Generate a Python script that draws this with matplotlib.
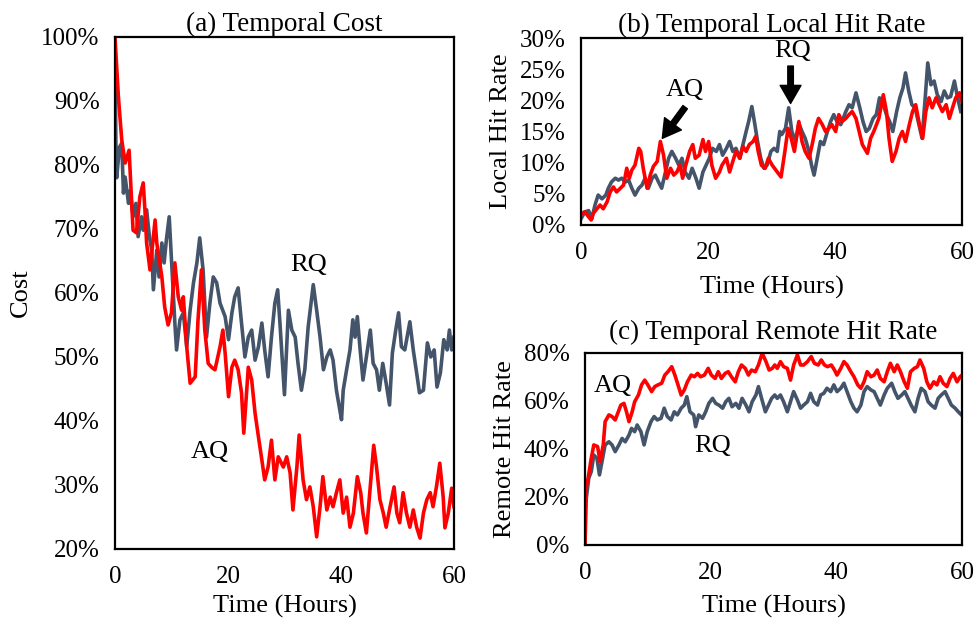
import matplotlib
matplotlib.use('Agg')
import matplotlib.pyplot as plt
from matplotlib.ticker import FuncFormatter, MultipleLocator

plt.rcParams['font.family'] = ['Liberation Serif', 'DejaVu Serif']

RED = '#FF0000'
GRAY = '#44546A'

# ---------------- data (hours, percent) ----------------
cost_aq = [(0, 100), (0.6, 90.7), (1.2, 83.9), (1.8, 80.3), (2.5, 82.3), (3.2, 69.8), (3.8, 69.4),
           (4.4, 75.0), (5.0, 77.2), (5.3, 73.0), (5.6, 67.8), (6.2, 63.6), (7.1, 71.4), (7.4, 67.8),
           (8.3, 62.5), (8.8, 57.8), (9.4, 55.0), (10.0, 56.9), (10.6, 64.7), (11.2, 59.4), (11.8, 57.3),
           (12.1, 59.4), (12.7, 51.6), (13.3, 45.9), (14.2, 46.9), (14.7, 55.8), (15.3, 63.6), (15.9, 54.2),
           (16.5, 49.0), (17.1, 48.4), (17.7, 48.0), (18.6, 51.6), (19.1, 54.2), (19.5, 50.6), (20.1, 43.8),
           (20.7, 48.4), (21.2, 49.5), (21.8, 48.0), (22.4, 44.4), (22.8, 38.1), (23.6, 48.4), (24.2, 46.4),
           (24.8, 41.2), (25.4, 37.5), (26.0, 33.9), (26.5, 30.8), (27.1, 32.8), (27.7, 37.0), (28.3, 30.8),
           (28.9, 34.4), (29.8, 32.8), (30.4, 34.4), (31.0, 31.9), (31.5, 26.1), (32.2, 32.8), (32.6, 37.8),
           (33.3, 30.8), (33.9, 27.7), (34.5, 29.7), (35.1, 26.6), (35.7, 21.9), (36.3, 26.6), (36.8, 31.3),
           (37.5, 26.1), (38.1, 28.1), (38.6, 26.6), (39.2, 28.8), (39.8, 30.8), (40.4, 25.6), (41.0, 28.1),
           (41.6, 23.4), (42.2, 25.6), (42.9, 31.3), (43.5, 28.8), (43.9, 25.6), (44.5, 22.5), (45.1, 28.8),
           (45.8, 36.2), (46.3, 32.8), (46.9, 27.7), (47.5, 25.6), (48.0, 23.4), (48.7, 26.6), (49.4, 29.7),
           (49.9, 25.6), (50.4, 24.1), (51.0, 28.8), (51.6, 25.6), (52.2, 23.4), (52.8, 26.1), (53.4, 23.4),
           (54.0, 21.7), (54.6, 25.6), (55.2, 27.7), (55.8, 28.8), (56.3, 26.6), (56.9, 29.7), (57.5, 33.4),
           (58.1, 28.1), (58.4, 23.3), (59.0, 25.6), (59.6, 29.5), (60.0, 26.6)]

cost_rq = [(0, 100), (0.15, 84.0), (0.3, 78.0), (0.8, 82.8), (1.2, 83.4), (1.5, 75.6), (1.8, 78.1),
           (2.4, 74.0), (2.7, 76.0), (3.2, 71.9), (3.7, 74.0), (4.1, 68.8), (4.7, 71.9), (5.0, 69.8),
           (5.6, 73.0), (6.1, 68.8), (6.5, 66.7), (6.8, 60.5), (7.4, 66.7), (7.8, 62.5), (8.3, 67.8),
           (8.7, 64.7), (9.1, 68.3), (9.6, 71.9), (10.0, 65.2), (10.6, 55.3), (10.9, 51.1), (11.5, 55.8),
           (12.1, 56.9), (12.7, 51.6), (13.3, 57.3), (13.9, 61.6), (14.5, 64.7), (15.0, 68.6), (15.6, 63.6),
           (16.2, 53.1), (16.8, 58.4), (17.4, 62.5), (18.0, 61.6), (18.6, 58.4), (19.5, 56.3), (20.1, 52.7),
           (20.7, 56.9), (21.2, 59.4), (21.8, 60.8), (22.4, 55.3), (23.0, 50.0), (23.6, 53.1), (24.2, 54.2),
           (24.8, 49.5), (25.4, 51.6), (26.0, 55.3), (26.5, 51.1), (27.1, 46.9), (27.7, 53.1), (28.3, 58.4),
           (28.8, 60.5), (29.2, 55.3), (30.0, 44.1), (30.7, 57.3), (31.3, 54.2), (31.9, 53.1), (32.4, 49.0),
           (33.0, 44.8), (33.6, 48.0), (34.2, 54.7), (35.1, 61.3), (35.7, 57.3), (36.3, 53.1), (36.9, 48.0),
           (37.5, 50.0), (38.1, 51.1), (38.6, 49.5), (39.2, 44.8), (39.8, 41.7), (40.1, 40.2), (40.4, 44.8),
           (41.0, 48.0), (41.6, 51.1), (42.1, 55.8), (42.5, 53.1), (42.9, 56.3), (43.4, 51.1), (43.9, 46.4),
           (44.5, 50.0), (45.2, 54.2), (45.7, 49.0), (46.3, 48.0), (46.8, 44.8), (47.4, 49.0), (48.0, 45.9),
           (48.6, 42.5), (49.1, 50.6), (49.7, 54.2), (50.2, 56.9), (50.7, 51.6), (51.3, 51.1), (52.2, 55.5),
           (52.8, 51.1), (53.4, 47.5), (53.9, 44.4), (54.6, 44.8), (55.3, 52.2), (55.9, 50.0), (56.5, 51.1),
           (57.0, 45.3), (57.6, 47.5), (58.2, 52.7), (58.8, 51.1), (59.2, 54.2), (59.6, 51.1), (60.0, 53.1)]

local_aq = [(0, 1.8), (0.6, 2.1), (1.2, 1.3), (1.6, 0.8), (1.9, 1.8), (2.5, 2.6), (3.0, 3.2), (3.5, 2.6),
            (4.1, 3.7), (4.6, 5.3), (5.1, 6.1), (5.6, 5.3), (6.2, 5.9), (6.7, 6.4), (7.2, 9.1), (7.6, 7.5),
            (8.0, 8.8), (8.5, 9.6), (9.1, 12.3), (9.4, 11.8), (9.8, 9.1), (10.4, 5.9), (10.9, 8.0), (11.4, 9.4),
            (12.0, 10.2), (12.5, 13.4), (13.0, 11.2), (13.5, 7.5), (14.1, 9.1), (14.6, 8.0), (15.1, 8.5),
            (15.6, 9.6), (16.0, 7.5), (16.5, 9.6), (17.1, 11.8), (17.6, 12.9), (18.0, 10.7), (18.6, 11.2),
            (19.2, 13.7), (19.6, 11.8), (20.1, 13.4), (20.6, 9.6), (21.2, 7.5), (21.8, 8.5), (22.2, 9.6),
            (22.9, 10.7), (23.4, 8.5), (23.9, 10.2), (24.4, 11.8), (25.0, 10.7), (25.5, 12.6), (26.0, 11.8),
            (26.5, 12.9), (27.1, 13.4), (27.5, 14.2), (27.9, 11.8), (28.4, 9.6), (29.0, 9.1), (29.5, 10.7),
            (30.1, 9.6), (30.9, 8.5), (31.5, 7.7), (32.1, 11.8), (32.6, 15.5), (33.1, 13.9), (33.6, 11.8),
            (34.3, 16.6), (34.8, 13.4), (35.3, 11.8), (35.9, 10.7), (36.4, 12.9), (36.9, 15.5), (37.4, 17.1),
            (38.0, 16.1), (38.5, 15.0), (39.0, 15.5), (39.5, 16.1), (40.1, 15.0), (40.6, 17.7), (41.1, 16.6),
            (41.7, 17.1), (42.2, 17.7), (42.7, 18.2), (43.3, 17.1), (43.8, 15.0), (44.3, 12.9), (45.1, 11.5),
            (45.6, 13.9), (46.1, 15.0), (46.9, 17.1), (47.6, 20.9), (48.1, 18.2), (48.5, 13.9), (49.0, 10.2),
            (49.6, 11.8), (50.1, 13.9), (50.6, 15.0), (51.1, 13.4), (51.7, 16.1), (52.2, 18.2), (52.7, 19.3),
            (53.2, 16.6), (53.8, 13.9), (54.3, 18.2), (54.8, 20.4), (55.3, 18.8), (55.9, 20.4), (56.4, 19.3),
            (56.9, 18.2), (57.5, 19.3), (58.0, 17.1), (58.5, 18.8), (59.0, 20.4), (59.6, 21.2), (60.0, 19.8)]

local_rq = [(0, 1.0), (0.6, 2.1), (1.2, 2.3), (1.7, 1.0), (2.2, 3.2), (2.7, 4.8), (3.3, 4.2), (3.9, 4.8),
            (4.3, 5.9), (4.8, 6.9), (5.4, 7.5), (5.9, 7.2), (6.4, 7.5), (7.0, 6.9), (7.5, 7.2), (8.0, 5.9),
            (8.5, 4.8), (9.1, 5.9), (9.6, 6.4), (10.1, 7.5), (10.6, 5.9), (11.2, 7.5), (11.7, 8.0), (12.2, 6.9),
            (12.7, 5.9), (13.3, 8.5), (13.8, 10.7), (14.3, 11.8), (14.9, 10.7), (15.4, 9.6), (15.9, 10.7),
            (16.4, 8.5), (17.0, 7.5), (17.5, 9.1), (18.1, 7.5), (18.6, 5.9), (19.2, 8.5), (19.7, 9.6),
            (20.2, 10.7), (20.7, 12.3), (21.3, 11.8), (21.8, 12.9), (22.3, 11.2), (22.9, 12.3), (23.4, 13.4),
            (23.9, 11.8), (24.4, 12.3), (25.0, 10.7), (25.5, 12.9), (26.0, 15.0), (26.4, 16.6), (26.9, 19.0),
            (27.3, 16.6), (27.8, 13.4), (28.3, 10.7), (28.8, 9.1), (29.3, 9.6), (29.9, 11.8), (30.4, 12.3),
            (30.9, 11.8), (31.3, 15.0), (31.6, 14.5), (32.2, 15.5), (32.7, 18.8), (33.2, 15.0), (33.8, 13.4),
            (34.3, 16.3), (34.8, 15.0), (35.3, 13.9), (35.9, 11.8), (36.3, 9.6), (36.7, 8.0), (37.2, 10.7),
            (37.7, 13.4), (38.2, 12.9), (38.8, 15.0), (39.3, 16.6), (39.8, 17.7), (40.3, 16.6), (40.9, 16.1),
            (41.7, 18.2), (42.2, 19.3), (42.7, 18.8), (43.3, 21.2), (43.9, 18.8), (44.4, 16.6), (44.9, 15.0),
            (45.4, 15.5), (46.0, 17.1), (46.5, 17.7), (47.0, 20.4), (47.6, 19.3), (48.1, 17.7), (48.6, 16.6),
            (49.1, 15.0), (49.7, 18.2), (50.2, 20.4), (50.7, 22.0), (51.1, 24.4), (51.6, 21.5), (52.1, 19.3),
            (52.6, 18.8), (53.1, 16.6), (53.7, 13.9), (54.2, 20.4), (54.6, 26.0), (55.1, 22.5), (55.6, 23.1),
            (56.1, 20.9), (56.7, 19.8), (57.2, 21.5), (57.7, 20.4), (58.2, 20.6), (58.8, 23.1), (59.3, 20.4),
            (59.8, 18.2)]

remote_aq = [(0, 0), (0.05, 22.2), (0.5, 27.9), (1.0, 36.2), (1.4, 41.7), (2.0, 41.0), (2.4, 34.7),
             (2.9, 41.7), (3.2, 51.4), (3.8, 54.2), (4.3, 53.5), (4.8, 52.1), (5.3, 55.5), (5.7, 58.3),
             (6.2, 59.0), (6.6, 55.5), (7.0, 51.4), (7.5, 55.5), (7.9, 59.7), (8.5, 62.5), (9.0, 66.7),
             (9.5, 68.7), (10.0, 66.7), (10.6, 63.9), (11.1, 66.0), (11.6, 66.7), (12.2, 67.4), (12.7, 70.8),
             (13.2, 72.2), (13.8, 74.3), (14.3, 70.8), (14.8, 66.7), (15.3, 62.5), (15.8, 64.6), (16.3, 68.0),
             (16.9, 70.8), (17.4, 70.1), (17.9, 71.5), (18.4, 70.1), (19.0, 70.8), (19.6, 73.6), (20.1, 70.8),
             (20.7, 69.4), (21.2, 72.2), (21.7, 69.4), (22.3, 71.5), (22.8, 72.2), (23.3, 70.1), (23.9, 68.0),
             (24.4, 72.2), (24.9, 75.0), (25.5, 73.6), (26.0, 70.8), (26.5, 72.9), (27.1, 72.2), (27.6, 75.0),
             (28.2, 79.9), (28.8, 76.4), (29.3, 72.9), (29.8, 73.6), (30.2, 75.0), (30.6, 73.6), (31.1, 76.4),
             (31.6, 74.3), (32.2, 73.6), (32.7, 68.7), (33.2, 75.0), (33.8, 79.2), (34.3, 75.0), (34.8, 75.0),
             (35.4, 76.4), (36.0, 78.5), (36.5, 75.7), (37.1, 75.0), (37.6, 77.1), (38.1, 75.0), (38.6, 74.3),
             (39.2, 75.0), (39.7, 72.9), (40.1, 70.8), (40.7, 73.6), (41.2, 76.4), (41.7, 75.0), (42.3, 72.2),
             (42.8, 70.1), (43.4, 66.7), (43.9, 65.3), (44.4, 68.0), (44.9, 72.2), (45.5, 70.1), (46.0, 70.8),
             (46.5, 72.9), (47.0, 69.4), (47.6, 68.0), (48.1, 72.2), (48.6, 75.7), (49.2, 72.2), (49.7, 75.0),
             (50.2, 72.2), (50.8, 68.0), (51.3, 65.3), (51.8, 72.2), (52.4, 73.6), (52.9, 74.3), (53.3, 77.1),
             (53.9, 73.6), (54.4, 68.0), (54.9, 65.3), (55.5, 68.0), (56.0, 66.7), (56.5, 70.1), (57.0, 67.4),
             (57.6, 66.0), (58.1, 69.4), (58.6, 71.5), (59.2, 68.0), (59.7, 70.1), (60.0, 70.8)]

remote_rq = [(0, 0), (0.2, 19.4), (0.6, 27.9), (1.0, 30.6), (1.4, 37.5), (1.9, 36.1), (2.3, 29.2),
             (2.7, 34.7), (3.2, 41.7), (3.8, 43.0), (4.3, 41.7), (4.8, 38.9), (5.4, 41.7), (5.9, 44.4),
             (6.4, 43.0), (7.0, 45.8), (7.4, 48.6), (7.9, 47.2), (8.3, 50.0), (8.9, 47.2), (9.4, 41.7),
             (9.9, 47.2), (10.5, 51.4), (11.0, 53.5), (11.5, 52.1), (12.1, 52.8), (12.6, 57.0), (13.1, 53.5),
             (13.7, 52.1), (14.2, 55.5), (14.7, 54.2), (15.3, 57.0), (15.8, 58.3), (16.2, 61.8), (16.7, 55.5),
             (17.3, 54.2), (17.6, 49.3), (18.1, 54.2), (18.7, 52.8), (19.2, 55.5), (19.7, 59.0), (20.3, 61.1),
             (20.8, 59.0), (21.3, 58.3), (21.9, 57.0), (22.4, 59.7), (22.9, 61.1), (23.4, 57.6), (24.0, 59.0),
             (24.5, 57.0), (25.0, 61.1), (25.6, 58.3), (26.1, 55.5), (26.6, 59.7), (27.2, 62.5), (27.6, 66.0),
             (28.1, 61.1), (28.7, 55.5), (29.2, 58.3), (29.7, 61.1), (30.2, 62.5), (30.6, 61.1), (31.1, 62.5),
             (31.6, 59.7), (32.2, 55.5), (32.7, 59.7), (33.2, 63.9), (33.8, 60.4), (34.3, 57.0), (34.8, 58.3),
             (35.4, 59.7), (35.9, 63.2), (36.4, 59.7), (37.0, 58.3), (37.5, 62.5), (38.0, 63.2), (38.5, 65.3),
             (39.1, 63.9), (39.6, 66.7), (40.1, 63.9), (40.7, 65.3), (41.2, 67.4), (41.7, 63.9), (42.3, 59.7),
             (42.8, 57.0), (43.3, 55.5), (43.9, 58.3), (44.4, 63.9), (44.9, 66.0), (45.5, 64.6), (46.0, 63.9),
             (46.5, 61.1), (47.0, 58.3), (47.6, 62.5), (48.1, 65.3), (48.8, 67.4), (49.3, 63.9), (49.8, 61.1),
             (50.4, 62.5), (50.9, 63.9), (51.4, 61.1), (51.9, 58.3), (52.5, 55.5), (53.0, 61.1), (53.5, 65.3),
             (54.1, 63.9), (54.6, 59.7), (55.1, 58.3), (55.7, 57.0), (56.2, 61.1), (56.7, 62.5), (57.3, 63.9),
             (57.8, 61.1), (58.3, 58.3), (58.9, 57.0), (59.4, 55.5), (59.9, 54.2)]

x_ticks = [0, 20, 40, 60]
titles = ['(a) Temporal Cost', '(b) Temporal Local Hit Rate', '(c) Temporal Remote Hit Rate']
ylabels = ['Cost', 'Local Hit Rate', 'Remote Hit Rate']
xlabel = 'Time (Hours)'

# ---------------- drawing ----------------
FS_TICK = 18
FS_LAB = 19
FS_TITLE = 19.5
LW = 2.6

fig = plt.figure(figsize=(9.76, 6.22), dpi=100)
ax_a = fig.add_axes([0.1178, 0.1174, 0.3473, 0.8232])
ax_b = fig.add_axes([0.5953, 0.6383, 0.3904, 0.3006])
ax_c = fig.add_axes([0.5994, 0.1238, 0.3863, 0.3087])

pct = FuncFormatter(lambda v, p: f'{v:.0f}%')


def draw(ax, rq, aq, ylim, ystep, title, ylab, tpad, ylpad, xlpad):
    xr, yr = zip(*rq)
    xa, ya = zip(*aq)
    ax.plot(xr, yr, color=GRAY, lw=LW, solid_joinstyle='round')
    ax.plot(xa, ya, color=RED, lw=LW, solid_joinstyle='round')
    ax.set_xlim(0, 60)
    ax.set_ylim(*ylim)
    ax.set_xticks(x_ticks)
    ax.yaxis.set_major_locator(MultipleLocator(ystep))
    ax.yaxis.set_major_formatter(pct)
    ax.tick_params(length=0, labelsize=FS_TICK)
    ax.tick_params(axis='x', pad=12)
    ax.tick_params(axis='y', pad=11)
    for s in ax.spines.values():
        s.set_linewidth(1.6)
        s.set_color('black')
    ax.set_title(title, fontsize=FS_TITLE, pad=tpad)
    ax.set_ylabel(ylab, fontsize=FS_LAB, labelpad=ylpad)
    ax.set_xlabel(xlabel, fontsize=FS_LAB, labelpad=xlpad)


draw(ax_a, cost_rq, cost_aq, (20, 100), 10, titles[0], ylabels[0], 4, 7, 5)
draw(ax_b, local_rq, local_aq, (0, 30), 5, titles[1], ylabels[1], 4, 6, 9)
draw(ax_c, remote_rq, remote_aq, (0, 80), 20, titles[2], ylabels[2], 10, 6, 8)

# text labels
ax_a.text(34.2, 64.4, 'RQ', fontsize=FS_LAB, ha='center', va='center')
ax_a.text(16.8, 35.2, 'AQ', fontsize=FS_LAB, ha='center', va='center')

ax_b.text(16.3, 21.6, 'AQ', fontsize=FS_LAB, ha='center', va='center')
ax_b.annotate('', xy=(12.8, 13.9), xytext=(16.4, 18.9),
              arrowprops=dict(facecolor='black', edgecolor='black', width=4,
                              headwidth=15, headlength=13, shrink=0))
ax_b.text(33.3, 27.9, 'RQ', fontsize=FS_LAB, ha='center', va='center')
ax_b.annotate('', xy=(33.0, 19.5), xytext=(33.0, 25.5),
              arrowprops=dict(facecolor='black', edgecolor='black', width=4,
                              headwidth=15, headlength=13, shrink=0))

ax_c.text(4.5, 66.2, 'AQ', fontsize=FS_LAB, ha='center', va='center')
ax_c.text(20.3, 41.2, 'RQ', fontsize=FS_LAB, ha='center', va='center')

fig.savefig('out.png', dpi=100)
